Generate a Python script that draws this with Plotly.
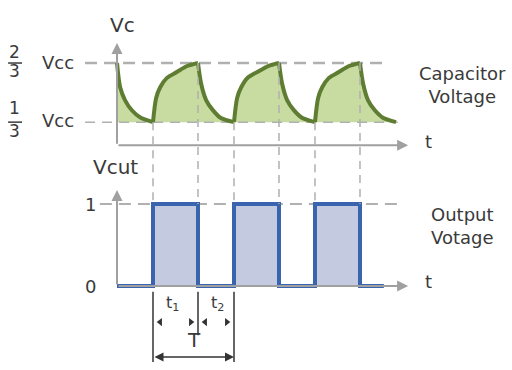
import plotly.graph_objects as go

# time in units of the charge interval (t1 ~ 1.0, t2 ~ 0.8)
# capacitor voltage, as fraction of Vcc
V_LOW = 0.333
V_HIGH = 0.667

cap_t = [0.0, 0.07, 0.18, 0.33, 0.51, 0.8,
         0.87, 0.96, 1.11, 1.33, 1.56, 1.8,
         1.87, 1.98, 2.13, 2.31, 2.6,
         2.67, 2.76, 2.91, 3.13, 3.36, 3.6,
         3.67, 3.78, 3.93, 4.11, 4.4,
         4.47, 4.56, 4.71, 4.93, 5.16, 5.4,
         5.47, 5.58, 5.73, 5.91, 6.2]
cap_v = [0.667, 0.53, 0.456, 0.40, 0.361, 0.333,
         0.47, 0.53, 0.583, 0.616, 0.65, 0.667,
         0.55, 0.458, 0.401, 0.356, 0.333,
         0.47, 0.53, 0.585, 0.618, 0.65, 0.667,
         0.55, 0.458, 0.401, 0.358, 0.333,
         0.47, 0.53, 0.583, 0.616, 0.65, 0.667,
         0.55, 0.456, 0.40, 0.358, 0.333]

# output square wave (0 / 1)
out_t = [0.0, 0.8, 0.8, 1.8, 1.8, 2.6, 2.6, 3.6, 3.6, 4.4, 4.4, 5.4, 5.4, 5.93]
out_v = [0, 0, 1, 1, 0, 0, 1, 1, 0, 0, 1, 1, 0, 0]

switch_t = [0.8, 1.8, 2.6, 3.6, 4.4, 5.4]

T_END = 6.47  # arrow tip of the time axes

# axes layout
X_RANGE = [-2.6, 8.778]
Y1_DOM, Y1_RANGE = [0.6, 1.0], [0.187, 1.023]
Y2_DOM, Y2_RANGE = [0.0, 0.6], [-1.024, 1.683]

GREEN = "#5f7d32"
GREEN_FILL = "#c8dca2"
BLUE = "#3a64ad"
BLUE_FILL = "#c4cbe0"
AXIS = "#a0a0a0"
DASH = "#b0b0b0"
TEXT = "#3a3a3a"


def to_paper(v, dom, rng):
    return dom[0] + (v - rng[0]) / (rng[1] - rng[0]) * (dom[1] - dom[0])


fig = go.Figure()

# ---- capacitor voltage (top) ----
fig.add_trace(go.Scatter(x=[cap_t[0], cap_t[-1]], y=[V_LOW, V_LOW], mode="lines",
                         line=dict(width=0), hoverinfo="skip", yaxis="y"))
fig.add_trace(go.Scatter(x=cap_t, y=cap_v, mode="lines", line=dict(width=0),
                         fill="tonexty", fillcolor=GREEN_FILL, hoverinfo="skip", yaxis="y"))

# reference levels
fig.add_trace(go.Scatter(x=[-0.71, 5.91], y=[V_HIGH, V_HIGH], mode="lines",
                         line=dict(color=DASH, width=2.5, dash="12px,7px"), yaxis="y"))
fig.add_trace(go.Scatter(x=[-0.71, 6.24], y=[V_LOW, V_LOW], mode="lines",
                         line=dict(color=DASH, width=1.5, dash="10px,7px"), yaxis="y"))

# curve drawn segment by segment so the corners stay sharp
breaks = [i for i, v in enumerate(cap_v) if v in (V_LOW, V_HIGH)]
for a, b in zip(breaks[:-1], breaks[1:]):
    fig.add_trace(go.Scatter(x=cap_t[a:b + 1], y=cap_v[a:b + 1], mode="lines",
                             line=dict(color=GREEN, width=4, shape="spline", smoothing=0.8),
                             yaxis="y"))

# ---- output voltage (bottom) ----
fig.add_trace(go.Scatter(x=[-0.38, 6.24], y=[1, 1], mode="lines",
                         line=dict(color=DASH, width=2, dash="12px,7px"), yaxis="y2"))
fig.add_trace(go.Scatter(x=out_t, y=out_v, mode="lines", fill="tozeroy",
                         fillcolor=BLUE_FILL, line=dict(color=BLUE, width=4), yaxis="y2"))

# vertical guides from the capacitor curve to the output level
for t in switch_t:
    v = cap_v[cap_t.index(t)]
    fig.add_shape(type="line", xref="x", yref="paper", x0=t, x1=t,
                  y0=to_paper(v, Y1_DOM, Y1_RANGE), y1=to_paper(1, Y2_DOM, Y2_RANGE),
                  line=dict(color=DASH, width=1.5, dash="8px,6px"))

# axes with arrows
arrows = [
    ("y", 0, 0.203, 0, 0.78),
    ("y", 0, 0.203, T_END, 0.203),
    ("y2", 0, 0, 0, 1.17),
    ("y2", 0, 0, T_END, 0),
]
for yref, x0, y0, x1, y1 in arrows:
    fig.add_annotation(x=x1, y=y1, ax=x0, ay=y0, xref="x", yref=yref, axref="x", ayref=yref,
                       text="", showarrow=True, arrowhead=2, arrowsize=1.1,
                       arrowwidth=2, arrowcolor=AXIS)

# ---- period markers below the output ----
t_a, t_b, t_c = switch_t[0], switch_t[1], switch_t[2]
for t, y1 in [(t_a, -0.927), (t_b, -0.6), (t_c, -0.927)]:
    fig.add_trace(go.Scatter(x=[t, t], y=[-0.07, y1], mode="lines",
                             line=dict(color="#333333", width=1.5), yaxis="y2"))
fig.add_trace(go.Scatter(x=[t_a + 0.16, t_b + 0.16], y=[-0.44, -0.44], mode="markers",
                         marker=dict(symbol="triangle-left", size=7, color="#333333"),
                         yaxis="y2"))
fig.add_trace(go.Scatter(x=[t_b - 0.16, t_c - 0.16], y=[-0.44, -0.44], mode="markers",
                         marker=dict(symbol="triangle-right", size=7, color="#333333"),
                         yaxis="y2"))
fig.add_annotation(x=t_c, y=-0.866, ax=t_a, ay=-0.866, xref="x", yref="y2",
                   axref="x", ayref="y2", text="", showarrow=True, arrowhead=2,
                   arrowside="end+start", arrowsize=1.2, arrowwidth=1.5,
                   arrowcolor="#333333")

# ---- labels ----
def label(text, x, y, yref="y", size=18, **kw):
    fig.add_annotation(x=x, y=y, xref="x", yref=yref, text=text, showarrow=False,
                       font=dict(size=size, color=TEXT), **kw)


label("Vc", 0.13, 0.882, size=20)
label("2", -2.27, V_HIGH, size=17, yshift=11)
label("3", -2.27, V_HIGH, size=17, yshift=-8)
label("Vcc", -1.31, V_HIGH, size=18, yshift=1)
label("1", -2.27, V_LOW, size=17, yshift=14)
label("3", -2.27, V_LOW, size=17, yshift=-9)
label("Vcc", -1.31, V_LOW, size=18, yshift=2)
for v in (V_HIGH, V_LOW):
    fig.add_shape(type="line", xref="x", yref="y", x0=-2.42, x1=-2.11, y0=v, y1=v,
                  line=dict(color=TEXT, width=1.5))
label("t", 6.93, 0.221)
label("Capacitor<br>Voltage", 7.67, 0.543, size=18)

label("Vcut", -0.04, 1.451, yref="y2", size=20)
label("1", -0.6, 1, yref="y2")
label("0", -0.6, 0, yref="y2")
label("t", 6.93, 0.05, yref="y2")
label("Output<br>Votage", 7.67, 0.73, yref="y2", size=18)
label("t<sub>1</sub>", 1.24, -0.21, yref="y2", size=16)
label("t<sub>2</sub>", 2.24, -0.21, yref="y2", size=16)
label("T", 1.71, -0.66, yref="y2", size=20)

fig.update_layout(
    width=512,
    height=370,
    margin=dict(l=0, r=0, t=0, b=0),
    paper_bgcolor="white",
    plot_bgcolor="white",
    showlegend=False,
    font=dict(family="DejaVu Sans", color=TEXT),
    xaxis=dict(range=X_RANGE, visible=False, fixedrange=True),
    yaxis=dict(domain=Y1_DOM, range=Y1_RANGE, visible=False, fixedrange=True),
    yaxis2=dict(domain=Y2_DOM, range=Y2_RANGE, visible=False, anchor="x", fixedrange=True),
)

# page body has a default 8px margin; drop it so the figure sits at the window corner
fig.write_html("out.html", config=dict(displayModeBar=False),
               post_script="document.body.style.margin = '0';")
